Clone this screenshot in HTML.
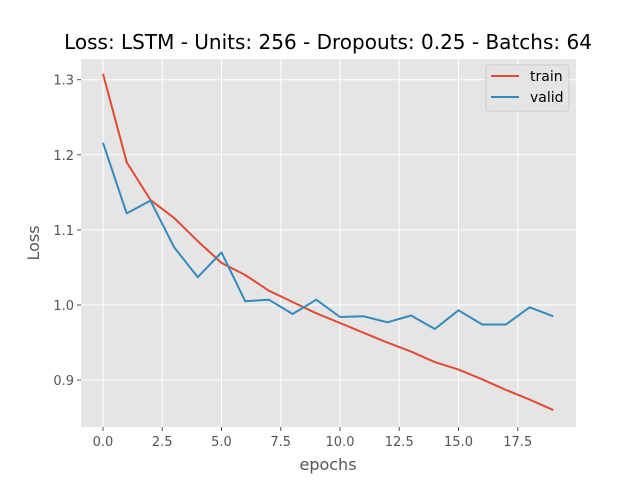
<!DOCTYPE html>
<html><head><meta charset="utf-8">
<style>
html,body{margin:0;padding:0;background:#fff;}
svg text{font-family:"DejaVu Sans","Liberation Sans",sans-serif;}
</style></head>
<body>
<svg id="chart" width="640" height="480" viewBox="0 0 640 480">
<text x="328" y="49" font-size="20" text-anchor="middle" fill="#000">Loss: LSTM - Units: 256 - Dropouts: 0.25 - Batchs: 64</text>
<rect x="81" y="59" width="495" height="368" fill="#e5e5e5"/>
<g id="grid"></g>
<g id="ticks"></g>
<g id="series"></g>
<text x="328" y="470" font-size="16" text-anchor="middle" fill="#555">epochs</text>
<text x="0" y="0" font-size="16" text-anchor="middle" fill="#555" transform="translate(39,243) rotate(-90)">Loss</text>
<g>
<rect x="486" y="65" width="83" height="46" rx="3" fill="#e5e5e5" stroke="#ccc" stroke-width="1"/>
<line x1="491" y1="76" x2="519" y2="76" stroke="#E24A33" stroke-width="2"/>
<text x="530" y="81" font-size="14" fill="#000">train</text>
<line x1="491" y1="97" x2="519" y2="97" stroke="#348ABD" stroke-width="2"/>
<text x="530" y="102" font-size="14" fill="#000">valid</text>
</g>
</svg>
<script>
const epochs = [0,1,2,3,4,5,6,7,8,9,10,11,12,13,14,15,16,17,18,19];
const trainLoss = [1.308,1.190,1.140,1.116,1.085,1.056,1.040,1.019,1.004,0.989,0.976,0.963,0.950,0.938,0.924,0.914,0.901,0.887,0.874,0.860];
const validLoss = [1.216,1.122,1.139,1.077,1.037,1.070,1.005,1.007,0.988,1.007,0.984,0.985,0.977,0.986,0.968,0.993,0.974,0.974,0.997,0.985];
const xTicks = [0,2.5,5,7.5,10,12.5,15,17.5];
const xTickLabels = ["0.0","2.5","5.0","7.5","10.0","12.5","15.0","17.5"];
const yTicks = [0.9,1.0,1.1,1.2,1.3];
const yTickLabels = ["0.9","1.0","1.1","1.2","1.3"];

const NS = "http://www.w3.org/2000/svg";
function xs(v){ return 103 + v*23.7; }
function ys(v){ return 305 - (v-1)*751; }
const grid = document.getElementById('grid');
const ticks = document.getElementById('ticks');
const series = document.getElementById('series');
function mk(tag, attrs, parent){
  const e = document.createElementNS(NS, tag);
  for (const k in attrs) e.setAttribute(k, attrs[k]);
  parent.appendChild(e);
  return e;
}
xTicks.forEach((t,i)=>{
  const g = mk('line',{x1:xs(t),x2:xs(t),y1:59,y2:427,stroke:'#fff','stroke-width':1},grid);
  
  
  const tk = mk('line',{x1:xs(t),x2:xs(t),y1:427,y2:431,stroke:'#555','stroke-width':1},ticks);
  
  
  const tx = mk('text',{x:xs(t),y:446,'font-size':13,'text-anchor':'middle',fill:'#555'},ticks);
  tx.textContent = xTickLabels[i];
  
  
});
yTicks.forEach((t,i)=>{
  const g = mk('line',{x1:81,x2:576,y1:ys(t),y2:ys(t),stroke:'#fff','stroke-width':1},grid);
  
  
  const tk = mk('line',{x1:77,x2:81,y1:ys(t),y2:ys(t),stroke:'#555','stroke-width':1},ticks);
  
  
  const tx = mk('text',{x:74,y:ys(t)+5,'font-size':13,'text-anchor':'end',fill:'#555'},ticks);
  tx.textContent = yTickLabels[i];
  
  
});
function line(vals, color, name){
  const pts = vals.map((v,i)=>xs(epochs[i]).toFixed(1)+','+ys(v).toFixed(1)).join(' ');
  const p = mk('polyline',{points:pts,fill:'none',stroke:color,'stroke-width':2,'stroke-linejoin':'round'},series);
  
  
}
line(trainLoss,'#E24A33','train-line');
line(validLoss,'#348ABD','valid-line');
</script>
</body></html>
